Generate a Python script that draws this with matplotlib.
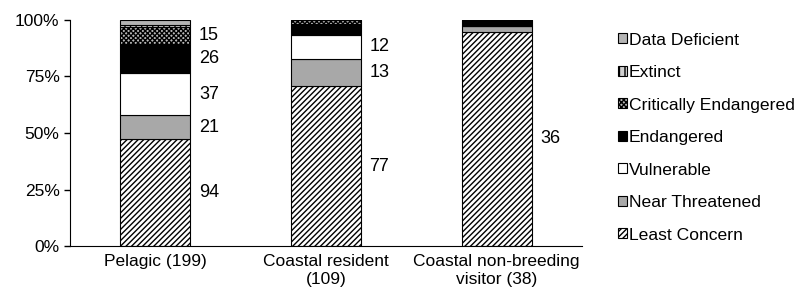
import matplotlib.pyplot as plt
import numpy as np

plt.rcParams['font.family'] = ['Liberation Sans', 'DejaVu Sans']
plt.rcParams['hatch.linewidth'] = 1.0

groups = ['Pelagic (199)', 'Coastal resident\n(109)', 'Coastal non-breeding\nvisitor (38)']
cats = ['Least Concern', 'Near Threatened', 'Vulnerable', 'Endangered',
        'Critically Endangered', 'Extinct', 'Data Deficient']
counts = {
    'Least Concern': [94, 77, 36],
    'Near Threatened': [21, 13, 1],
    'Vulnerable': [37, 12, 0],
    'Endangered': [26, 5, 1],
    'Critically Endangered': [15, 2, 0],
    'Extinct': [2, 0, 0],
    'Data Deficient': [4, 0, 0],
}
# numbers printed beside the bars
shown = {
    'Least Concern': [94, 77, 36],
    'Near Threatened': [21, 13, None],
    'Vulnerable': [37, 12, None],
    'Endangered': [26, None, None],
    'Critically Endangered': [15, None, None],
}

styles = {
    'Least Concern': dict(color='white', hatch='//////'),
    'Near Threatened': dict(color='#a8a8a8', hatch=None),
    'Vulnerable': dict(color='white', hatch=None),
    'Endangered': dict(color='black', hatch=None),
    'Critically Endangered': dict(color='#b8b8b8', hatch='xxxxxxx'),
    'Extinct': dict(color='#d0d0d0', hatch='|||'),
    'Data Deficient': dict(color='#b4b4b4', hatch=None),
}

data = np.array([counts[c] for c in cats], dtype=float)
totals = data.sum(axis=0)
pct = data / totals * 100

fig = plt.figure(figsize=(8.02, 2.95), dpi=100)
ax = fig.add_axes([70 / 802, 49 / 295, 512 / 802, 226 / 295])
x = np.arange(len(groups))
w = 0.41
bottom = np.zeros(len(groups))
handles = {}
for i, c in enumerate(cats):
    st = styles[c]
    b = ax.bar(x, pct[i], w, bottom=bottom, color=st['color'], hatch=st['hatch'],
               edgecolor='black', linewidth=0.8, label=c)
    handles[c] = b
    if c in shown:
        for j, v in enumerate(shown[c]):
            if v is not None:
                ax.text(x[j] + w / 2 + 0.05, bottom[j] + pct[i][j] / 2, str(v),
                        va='center', ha='left', fontsize=13)
    bottom += pct[i]

ax.set_xlim(-0.5, 2.5)
ax.set_ylim(0, 100)
ax.set_yticks([0, 25, 50, 75, 100])
ax.set_yticklabels(['0%', '25%', '50%', '75%', '100%'], fontsize=12.5)
ax.set_xticks(x)
ax.set_xticklabels(groups, fontsize=12.5)
ax.tick_params(axis='x', length=0, pad=6)
ax.tick_params(axis='y', length=4, width=1)
ax.spines['top'].set_visible(False)
ax.spines['right'].set_visible(False)

leg = ax.legend([handles[c] for c in cats[::-1]], cats[::-1], loc='center left',
                bbox_to_anchor=(1.04, 0.48), frameon=False, fontsize=12.6,
                handlelength=0.5, handleheight=0.5, handletextpad=0.12,
                labelspacing=1.0)

fig.savefig('out.png', dpi=100)
